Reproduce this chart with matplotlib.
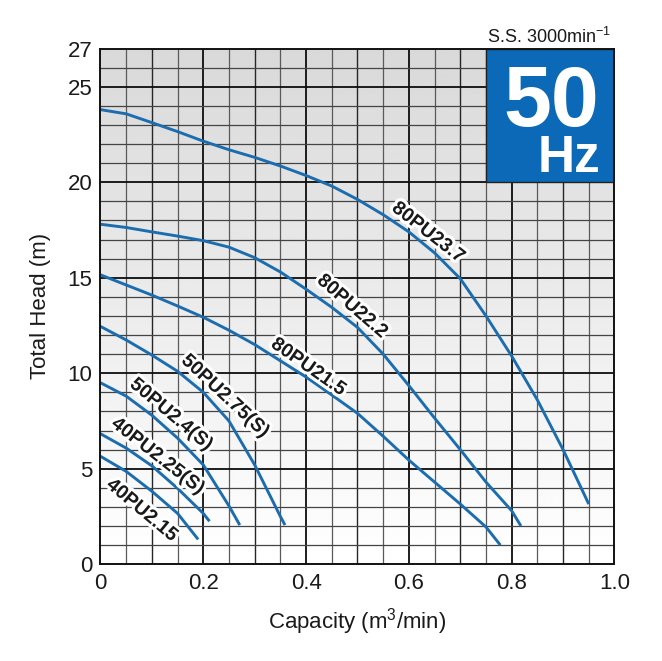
import numpy as np
import matplotlib
matplotlib.use("Agg")
import matplotlib.pyplot as plt
import matplotlib.patheffects as pe
from matplotlib.patches import Rectangle

plt.rcParams["font.family"] = ["Liberation Sans", "DejaVu Sans"]
plt.rcParams["mathtext.fontset"] = "custom"
plt.rcParams["mathtext.rm"] = "Liberation Sans"
plt.rcParams["mathtext.it"] = "Liberation Sans"

# pump curves: capacity (m3/min) vs total head (m)
q_80pu23_7 = [0, 0.05, 0.1, 0.15, 0.2, 0.25, 0.3, 0.35, 0.4, 0.45, 0.5,
              0.55, 0.6, 0.65, 0.7, 0.75, 0.8, 0.85, 0.9, 0.95]
h_80pu23_7 = [23.8, 23.58, 23.12, 22.65, 22.15, 21.7, 21.3, 20.85, 20.35, 19.8,
              19.1, 18.3, 17.4, 16.3, 14.95, 13.0, 10.9, 8.6, 6.0, 3.15]

q_80pu22_2 = [0, 0.05, 0.1, 0.15, 0.2, 0.25, 0.3, 0.35, 0.4, 0.45, 0.5,
              0.55, 0.6, 0.65, 0.7, 0.75, 0.8, 0.818]
h_80pu22_2 = [17.8, 17.63, 17.4, 17.18, 16.94, 16.6, 16.05, 15.3, 14.4, 13.45,
              12.4, 11.0, 9.35, 7.65, 6.0, 4.3, 2.8, 2.0]

q_80pu21_5 = [0, 0.05, 0.1, 0.15, 0.2, 0.25, 0.3, 0.35, 0.4, 0.45, 0.5,
              0.55, 0.6, 0.65, 0.7, 0.75, 0.778]
h_80pu21_5 = [15.15, 14.62, 14.09, 13.52, 12.93, 12.25, 11.5, 10.65, 9.8, 8.86,
              7.9, 6.7, 5.45, 4.3, 3.15, 1.95, 1.0]

q_50pu2_75 = [0, 0.05, 0.1, 0.15, 0.2, 0.25, 0.3, 0.35, 0.359]
h_50pu2_75 = [12.45, 11.74, 10.95, 10.1, 9.0, 7.5, 5.2, 2.5, 2.05]

q_50pu2_4 = [0, 0.05, 0.1, 0.15, 0.2, 0.25, 0.271]
h_50pu2_4 = [9.5, 8.8, 7.8, 6.6, 5.2, 3.05, 2.05]

q_40pu2_25 = [0, 0.05, 0.1, 0.15, 0.2, 0.212]
h_40pu2_25 = [6.83, 6.08, 5.15, 3.97, 2.66, 2.25]

q_40pu2_15 = [0, 0.05, 0.1, 0.15, 0.19]
h_40pu2_15 = [5.65, 4.86, 3.82, 2.66, 1.3]

curves = [
    (q_80pu23_7, h_80pu23_7),
    (q_80pu22_2, h_80pu22_2),
    (q_80pu21_5, h_80pu21_5),
    (q_50pu2_75, h_50pu2_75),
    (q_50pu2_4, h_50pu2_4),
    (q_40pu2_25, h_40pu2_25),
    (q_40pu2_15, h_40pu2_15),
]

model_names = ["80PU23.7", "80PU22.2", "80PU21.5", "50PU2.75(S)",
               "50PU2.4(S)", "40PU2.25(S)", "40PU2.15"]
# label placement (x, y, rotation)
label_pos = [(0.637, 17.34, -38), (0.489, 13.48, -41), (0.404, 10.3, -35),
             (0.242, 8.77, -43), (0.137, 7.81, -40), (0.111, 5.63, -38),
             (0.08, 2.8, -40)]

xticks = [0, 0.2, 0.4, 0.6, 0.8, 1.0]
xtick_labels = ["0", "0.2", "0.4", "0.6", "0.8", "1.0"]
yticks = [0, 5, 10, 15, 20, 25, 27]

line_blue = "#1b6db0"
box_blue = "#0b69b7"
text_col = "#1a1a1a"

fig = plt.figure(figsize=(6.62, 6.61), dpi=100)
ax = fig.add_axes([0.1518, 0.1464, 0.7764, 0.7802])

# background gradient (light grey at top -> white at bottom)
grad = np.linspace(1.0, 0.85, 256).reshape(-1, 1)
ax.imshow(grad, extent=[0, 1, 0, 27], origin="lower", aspect="auto",
          cmap="gray", vmin=0, vmax=1, zorder=0)

# grid
for xv in np.arange(0.05, 1.0, 0.05):
    k = int(round(xv / 0.05))
    if k % 4 == 0:
        ax.axvline(xv, color="#0d0d0d", lw=1.3, zorder=1)
    elif k % 2 == 0:
        ax.axvline(xv, color="#262626", lw=1.0, zorder=1)
    else:
        ax.axvline(xv, color="#5a5a5a", lw=0.9, zorder=1)
for yv in range(1, 27):
    if yv % 5 == 0:
        ax.axhline(yv, color="#0d0d0d", lw=1.3, zorder=1)
    else:
        ax.axhline(yv, color="#444444", lw=0.9, zorder=1)

for (q, h) in curves:
    ax.plot(q, h, color=line_blue, lw=2.1, solid_capstyle="butt",
            solid_joinstyle="round", zorder=3)

for name, (lx, ly, rot) in zip(model_names, label_pos):
    ax.text(lx, ly, name, rotation=rot, rotation_mode="anchor",
            ha="center", va="center", fontsize=14, fontweight="bold",
            color=text_col, zorder=5,
            path_effects=[pe.withStroke(linewidth=4.5, foreground="white")])

# 50 Hz box
ax.add_patch(Rectangle((0.75, 20), 0.25, 7, facecolor=box_blue,
                       edgecolor="#222222", lw=1.0, zorder=6))
ax.text(0.97, 22.95, "50", color="white", fontsize=62, fontweight="bold",
        ha="right", va="baseline", zorder=7)
ax.text(0.972, 20.55, "Hz", color="white", fontsize=37, fontweight="bold",
        ha="right", va="baseline", zorder=7)
ax.text(0.993, 27.3, "S.S. 3000min$^{-1}$", fontsize=13, color=text_col,
        ha="right", va="baseline")

ax.set_xlim(0, 1.0)
ax.set_ylim(0, 27)
ax.set_xticks(xticks)
ax.set_xticklabels(xtick_labels)
ax.set_yticks(yticks)
ax.tick_params(length=0, labelsize=16, pad=6, colors=text_col)
for s in ax.spines.values():
    s.set_linewidth(1.4)
    s.set_color("#111111")
    s.set_zorder(8)

ax.set_xlabel("Capacity (m$^3$/min)", fontsize=16, color=text_col, labelpad=9)
ax.set_ylabel("Total Head (m)", fontsize=16, color=text_col, labelpad=12)

fig.savefig("out.png", dpi=100)
